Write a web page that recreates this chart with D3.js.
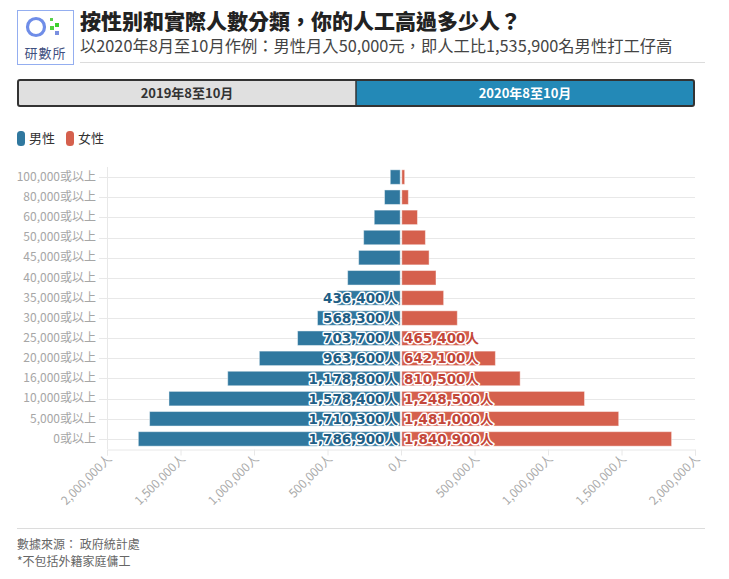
<!DOCTYPE html>
<html><head><meta charset="utf-8">
<script src="https://cdn.jsdelivr.net/npm/d3@7"></script>
<style>
body{margin:0;background:#fff;font-family:"Noto Sans CJK TC","Noto Sans",sans-serif;}
svg{display:block}
</style></head>
<body>
<svg id="c" width="729" height="579"></svg>
<script>
const categories = ["100,000或以上","80,000或以上","60,000或以上","50,000或以上","45,000或以上","40,000或以上","35,000或以上","30,000或以上","25,000或以上","20,000或以上","16,000或以上","10,000或以上","5,000或以上","0或以上"];
const maleValues   = [73000,112000,182000,254000,288000,363000,436400,568300,703700,963600,1178800,1578400,1710300,1786900];
const femaleValues = [25000,50000,112000,166000,191000,238000,290000,383000,465400,642100,810500,1248500,1481000,1840900];
const xTickValues = [-2000000,-1500000,-1000000,-500000,0,500000,1000000,1500000,2000000];
const seriesNames = ["男性","女性"];
const periods = ["2019年8至10月","2020年8至10月"];
const title = "按性别和實際人數分類，你的人工高過多少人？";
const subtitle = "以2020年8月至10月作例：男性月入50,000元，即人工比1,535,900名男性打工仔高";
const sourceLines = ["數據來源： 政府統計處","*不包括外籍家庭傭工"];

const maleColor = "#30789f", femaleColor = "#d5604d";
const svg = d3.select("#c");
const fmt = d3.format(",");

// header
const logo = svg.append("g");
logo.append("rect").attr("x",17.5).attr("y",10.5).attr("width",56).attr("height",54).attr("fill","#fff").attr("stroke","#94aef0").attr("stroke-width",1);
logo.append("circle").attr("cx",36).attr("cy",27).attr("r",8.5).attr("fill","none").attr("stroke","#6f8de8").attr("stroke-width",3.2);
logo.append("rect").attr("x",50).attr("y",18).attr("width",3).attr("height",3).attr("fill","#59d14b");
logo.append("rect").attr("x",55).attr("y",23).attr("width",4).attr("height",4).attr("fill","#3ad12b");
logo.append("rect").attr("x",50).attr("y",26).attr("width",4).attr("height",4).attr("fill","#4fd23c");
logo.append("rect").attr("x",55).attr("y",31).attr("width",4).attr("height",4).attr("fill","#7a8fe0");
logo.append("text").attr("x",45.5).attr("y",58).attr("text-anchor","middle").attr("font-size",13).attr("fill","#3f4f80").attr("letter-spacing",1).text("研數所");

svg.append("text").attr("x",80).attr("y",29).attr("font-size",21).attr("font-weight",900).attr("fill","#222").text(title);
svg.append("text").attr("x",80).attr("y",52).attr("font-size",16.3).attr("fill","#444").text(subtitle);
svg.append("line").attr("x1",80).attr("x2",705).attr("y1",62.5).attr("y2",62.5).attr("stroke","#dcdcdc");

// toggle
const tg = svg.append("g");
tg.append("rect").attr("x",18).attr("y",80).attr("width",338).attr("height",26).attr("fill","#e0e0e0");
tg.append("rect").attr("x",356).attr("y",80).attr("width",338).attr("height",26).attr("fill","#2389b7");
tg.append("rect").attr("x",18).attr("y",80).attr("width",676).attr("height",26).attr("rx",2).attr("fill","none").attr("stroke","#333").attr("stroke-width",2);
tg.append("line").attr("x1",356).attr("x2",356).attr("y1",80).attr("y2",106).attr("stroke","#333").attr("stroke-width",1.5);
tg.append("text").attr("x",187).attr("y",98).attr("text-anchor","middle").attr("font-size",13).attr("font-weight","bold").attr("fill","#333").attr("font-family","'Liberation Sans Narrow','Noto Sans CJK TC',sans-serif").text(periods[0]);
tg.append("text").attr("x",525).attr("y",98).attr("text-anchor","middle").attr("font-size",13).attr("font-weight","bold").attr("fill","#fff").attr("font-family","'Liberation Sans Narrow','Noto Sans CJK TC',sans-serif").text(periods[1]);

// legend
const lg = svg.append("g");
[[maleColor,seriesNames[0],17],[femaleColor,seriesNames[1],66]].forEach(([c,t,x])=>{
  lg.append("rect").attr("x",x).attr("y",131).attr("width",8).attr("height",15).attr("rx",3.5).attr("fill",c);
  lg.append("text").attr("x",x+12).attr("y",143).attr("font-size",13).attr("fill","#333").text(t);
});

// scales
const x = d3.scaleLinear().domain([-2000000,2000000]).range([107,695]);
const y = d3.scaleBand().domain(categories).range([167,449]).paddingInner(0.28).paddingOuter(0.14);

const grid = "#e8e8e8";
const yAxis = d3.axisLeft(y).tickSize(0).tickPadding(11);
const gy = svg.append("g").attr("transform","translate(107,0)").call(yAxis);
gy.select(".domain").remove();
gy.selectAll("text").attr("font-size",12).attr("fill","#a6a6a6").attr("font-family","'Noto Sans CJK TC',sans-serif");
svg.append("g").selectAll("line").data(categories).join("line")
  .attr("x1",99).attr("x2",695).attr("y1",d=>Math.round(y(d)+y.bandwidth()/2)+0.5).attr("y2",d=>Math.round(y(d)+y.bandwidth()/2)+0.5)
  .attr("stroke",grid);
svg.append("line").attr("x1",107.5).attr("x2",107.5).attr("y1",167).attr("y2",449).attr("stroke",grid);

// x axis
const xAxis = d3.axisBottom(x).tickValues(xTickValues).tickSize(6).tickFormat(d=>fmt(Math.abs(d))+"人");
const gx = svg.append("g").attr("transform","translate(0,449.5)").call(xAxis);
gx.select(".domain").attr("stroke",grid);
gx.selectAll(".tick line").attr("stroke",grid);
gx.selectAll("text").attr("font-size",12).attr("fill","#aaa").attr("font-family","'Noto Sans CJK TC',sans-serif")
  .attr("text-anchor","end").attr("dy",null).attr("y",0)
  .attr("transform","translate(5,10) rotate(-45)");

// bars
const zero = x(0);
const bars = svg.append("g");
bars.selectAll("rect.m").data(categories).join("rect").attr("class","m")
  .attr("x",(d,i)=>x(-maleValues[i])).attr("y",d=>y(d))
  .attr("width",(d,i)=>zero-0.8-x(-maleValues[i])).attr("height",y.bandwidth())
  .attr("fill",maleColor).attr("stroke","rgba(255,255,255,0.45)").attr("stroke-width",1);
bars.selectAll("rect.f").data(categories).join("rect").attr("class","f")
  .attr("x",zero+0.8).attr("y",d=>y(d))
  .attr("width",(d,i)=>x(femaleValues[i])-zero-0.8).attr("height",y.bandwidth())
  .attr("fill",femaleColor).attr("stroke","rgba(255,255,255,0.45)").attr("stroke-width",1);

// labels
const labelMin = 400000;
const lab = svg.append("g").attr("font-size",13.5).attr("font-weight","bold")
  .attr("font-family","'DejaVu Sans','Noto Sans CJK TC',sans-serif")
  .attr("stroke","#fff").attr("stroke-width",3).attr("stroke-linejoin","round").attr("paint-order","stroke");
lab.selectAll("text.m").data(categories.filter(d=>maleValues[categories.indexOf(d)]>=labelMin)).join("text").attr("class","m")
  .attr("x",zero-3).attr("y",d=>y(d)+y.bandwidth()/2+5).attr("text-anchor","end").attr("fill","#1f5f86")
  .text(d=>fmt(maleValues[categories.indexOf(d)])+"人");
lab.selectAll("text.f").data(categories.filter(d=>femaleValues[categories.indexOf(d)]>=labelMin)).join("text").attr("class","f")
  .attr("x",zero+3).attr("y",d=>y(d)+y.bandwidth()/2+5).attr("text-anchor","start").attr("fill","#c4473a")
  .text(d=>fmt(femaleValues[categories.indexOf(d)])+"人");

// footer
svg.append("line").attr("x1",17).attr("x2",705).attr("y1",528.5).attr("y2",528.5).attr("stroke","#dcdcdc");
sourceLines.forEach((t,i)=>svg.append("text").attr("x",17).attr("y",549+i*17).attr("font-size",12).attr("fill","#666").text(t));
</script>
</body></html>
